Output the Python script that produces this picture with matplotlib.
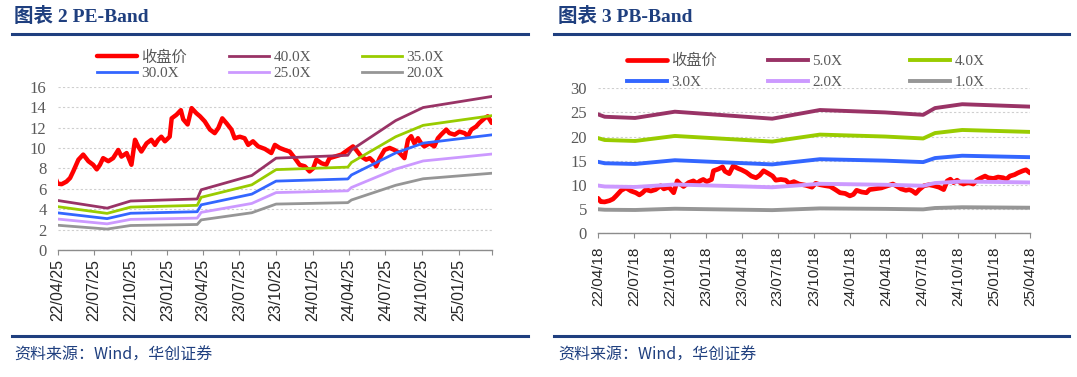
import matplotlib
matplotlib.use("Agg")
import matplotlib.pyplot as plt
from matplotlib.lines import Line2D
import pandas as pd

W, H = 1077, 377

# ---------------- data ----------------
price_dates = [
    "2022-04-18", "2022-04-21", "2022-04-25", "2022-05-05", "2022-05-17", "2022-05-26",
    "2022-06-03", "2022-06-16", "2022-06-28", "2022-07-11", "2022-07-23", "2022-08-01",
    "2022-08-09", "2022-08-17", "2022-08-30", "2022-09-11", "2022-09-24", "2022-10-02",
    "2022-10-15", "2022-10-27", "2022-11-05", "2022-11-13", "2022-11-21", "2022-12-04",
    "2022-12-16", "2022-12-25", "2023-01-02", "2023-01-10", "2023-01-19", "2023-01-31",
    "2023-02-05", "2023-02-17", "2023-02-28", "2023-03-06", "2023-03-17", "2023-03-27",
    "2023-04-08", "2023-04-17", "2023-04-29", "2023-05-12", "2023-05-24", "2023-06-02",
    "2023-06-12", "2023-06-23", "2023-07-05", "2023-07-13", "2023-07-26", "2023-08-07",
    "2023-08-16", "2023-08-28", "2023-09-10", "2023-09-27", "2023-10-13", "2023-10-22",
    "2023-11-03", "2023-11-16", "2023-11-28", "2023-12-11", "2023-12-23", "2024-01-05",
    "2024-01-17", "2024-01-26", "2024-02-03", "2024-02-16", "2024-02-28", "2024-03-07",
    "2024-03-20", "2024-04-06", "2024-04-22", "2024-05-05", "2024-05-13", "2024-05-26",
    "2024-06-07", "2024-06-16", "2024-06-24", "2024-07-02", "2024-07-11", "2024-07-23",
    "2024-08-05", "2024-08-17", "2024-08-30", "2024-09-11", "2024-09-20", "2024-09-28",
    "2024-10-06", "2024-10-15", "2024-10-23", "2024-10-31", "2024-11-13", "2024-11-25",
    "2024-12-04", "2024-12-12", "2024-12-25", "2025-01-02", "2025-01-15", "2025-01-27",
    "2025-02-09", "2025-02-17", "2025-02-26", "2025-03-10", "2025-03-18", "2025-03-31",
    "2025-04-08", "2025-04-18",
]
price_values = [
    7.2, 6.9, 6.5, 6.45, 6.7, 7.05,
    7.7, 8.85, 9.35, 8.7, 8.35, 7.9,
    8.35, 9.0, 8.7, 9.0, 9.8, 9.15,
    9.5, 8.35, 10.8, 10.15, 9.65, 10.45,
    10.8, 10.3, 10.8, 11.1, 10.65, 11.1,
    12.9, 13.25, 13.7, 12.8, 12.3, 13.9,
    13.4, 13.1, 12.6, 11.8, 11.45, 11.95,
    12.9, 12.4, 11.8, 10.95, 11.1, 10.95,
    10.3, 10.65, 10.15, 9.9, 9.5, 10.3,
    10.0, 9.8, 9.65, 9.0, 8.35, 8.2,
    7.7, 8.0, 8.85, 8.5, 8.35, 9.0,
    9.15, 9.35, 9.8, 10.15, 9.8, 9.15,
    8.85, 9.0, 8.7, 8.2, 9.0, 9.8,
    10.0, 9.8, 9.5, 9.0, 10.8, 11.15,
    10.45, 10.95, 10.45, 10.15, 10.45, 10.15,
    10.95, 11.3, 11.8, 11.45, 11.3, 11.6,
    11.45, 11.15, 11.8, 12.1, 12.45, 12.9,
    13.1, 12.45,
]

pe_eps_dates = ["2022-04-25", "2022-08-27", "2022-10-25", "2023-04-10", "2023-04-20",
                "2023-08-25", "2023-10-25", "2024-04-22", "2024-05-01", "2024-08-20",
                "2024-10-28", "2025-04-18"]
pe_eps_values = [0.1213, 0.1025, 0.120, 0.125, 0.1475,
                 0.1825, 0.225, 0.232, 0.245, 0.317,
                 0.349, 0.376]
pe_multiples = [40.0, 35.0, 30.0, 25.0, 20.0]
pe_labels = ["40.0X", "35.0X", "30.0X", "25.0X", "20.0X"]

pb_bps_dates = ["2022-04-18", "2022-05-05", "2022-07-21", "2022-10-30", "2023-07-04",
                "2023-11-02", "2024-04-15", "2024-07-21", "2024-08-20", "2024-10-28",
                "2025-04-18"]
pb_bps_values = [4.92, 4.82, 4.77, 5.03, 4.74,
                 5.10, 5.00, 4.90, 5.18, 5.34,
                 5.24]
pb_multiples = [5.0, 4.0, 3.0, 2.0, 1.0]
pb_labels = ["5.0X", "4.0X", "3.0X", "2.0X", "1.0X"]

close_label = "收盘价"

pe_xticks = ["2022-04-25", "2022-07-25", "2022-10-25", "2023-01-25", "2023-04-25",
             "2023-07-25", "2023-10-25", "2024-01-25", "2024-04-25", "2024-07-25",
             "2024-10-25", "2025-01-25"]
pb_xticks = ["2022-04-18", "2022-07-18", "2022-10-18", "2023-01-18", "2023-04-18",
             "2023-07-18", "2023-10-18", "2024-01-18", "2024-04-18", "2024-07-18",
             "2024-10-18", "2025-01-18", "2025-04-18"]
pe_yticks = [0, 2, 4, 6, 8, 10, 12, 14, 16]
pb_yticks = [0, 5, 10, 15, 20, 25, 30]

# ---------------- style ----------------
band_colors = ["#993366", "#99CC00", "#3366FF", "#CC99FF", "#969696"]
close_color = "#FF0000"
navy = "#1F3F7F"
grey_text = "#595959"
serif_cjk = ["Liberation Serif", "Noto Sans CJK SC"]

fig = plt.figure(figsize=(W / 100, H / 100), dpi=100)


def px_rect(x0, y_top, x1, y_bot):
    return [x0 / W, 1 - y_bot / H, (x1 - x0) / W, (y_bot - y_top) / H]


def fx(x):
    return x / W


def fy(y):
    return 1 - y / H


def draw_panel(rect, xlim, xticks, yticks, ylim, base_dates, base_values, multiples,
               labels, close_lw, band_lw, leg_cols, leg_rows, xtick_size, xtick_pad,
               end_tick):
    ax = fig.add_axes(rect)
    ax.patch.set_alpha(0)
    pdates = pd.to_datetime(price_dates)
    h_close, = ax.plot(pdates, price_values, color=close_color, lw=close_lw,
                       solid_joinstyle="round", solid_capstyle="round", zorder=3,
                       label=close_label)
    bdates = pd.to_datetime(base_dates)
    handles = [h_close]
    for m, lbl, c in zip(multiples, labels, band_colors):
        h, = ax.plot(bdates, [m * v for v in base_values], color=c, lw=band_lw,
                     solid_joinstyle="round", zorder=4, label=lbl)
        handles.append(h)
    ax.set_xlim(pd.Timestamp(xlim[0]), pd.Timestamp(xlim[1]))
    ax.set_ylim(*ylim)
    tick_dates = list(pd.to_datetime(xticks))
    tick_labels = [d.strftime("%y/%m/%d") for d in tick_dates]
    if end_tick:
        tick_dates.append(pd.Timestamp(xlim[1]))
        tick_labels.append("")
    ax.set_xticks(tick_dates)
    ax.set_xticklabels(tick_labels, rotation=90, fontsize=xtick_size,
                       family="Liberation Sans", color="#262626")
    ax.set_yticks(yticks)
    ax.set_yticklabels([str(v) for v in yticks], fontsize=12,
                       family="Liberation Serif", color=grey_text)
    ax.tick_params(axis="x", direction="out", length=3.5, width=0.8, color="#8C8C8C",
                   pad=xtick_pad)
    ax.tick_params(axis="y", length=0, pad=8)
    for s in ["top", "right", "left"]:
        ax.spines[s].set_visible(False)
    ax.spines["bottom"].set_color("#8C8C8C")
    ax.spines["bottom"].set_linewidth(1.0)
    ax.spines["bottom"].set_zorder(5)
    ax.yaxis.grid(True, color="#CFCFCF", linestyle=(0, (2, 2)), lw=0.8)
    ax.set_axisbelow(True)

    # legend laid out as a 3x2 grid (row-major like the original)
    for i in range(6):
        r, c = divmod(i, 3)
        leg = fig.legend(handles=[handles[i]], labels=[handles[i].get_label()],
                         loc="center left",
                         bbox_to_anchor=(fx(leg_cols[c]), fy(leg_rows[r])),
                         frameon=False, borderpad=0, borderaxespad=0,
                         handlelength=2.6, handletextpad=0.3,
                         prop={"family": serif_cjk, "size": 11})
        for t in leg.get_texts():
            t.set_color(grey_text)
    return ax


# ---- left panel: PE-Band ----
draw_panel(px_rect(57.7, 86.7, 491.7, 250), ("2022-04-25", "2025-04-18"), pe_xticks,
           pe_yticks, (0, 16), pe_eps_dates, pe_eps_values, pe_multiples, pe_labels,
           close_lw=3.2, band_lw=2.0, leg_cols=[97, 229, 362], leg_rows=[57.5, 73],
           xtick_size=11.5, xtick_pad=3, end_tick=True)

# ---- right panel: PB-Band ----
draw_panel(px_rect(598, 88.3, 1030, 233), ("2022-04-18", "2025-04-18"), pb_xticks,
           pb_yticks, (0, 30), pb_bps_dates, pb_bps_values, pb_multiples, pb_labels,
           close_lw=3.4, band_lw=2.8, leg_cols=[627, 768, 910], leg_rows=[61, 82],
           xtick_size=11, xtick_pad=6, end_tick=False)

# ---- titles, rules, sources ----
for x0, x1, title, tx in [(12, 528, "图表 2 PE-Band", 14), (554, 1069, "图表 3 PB-Band", 558)]:
    fig.text(fx(tx), fy(17), title, ha="left", va="center", fontsize=14,
             fontweight="bold", color=navy, family=serif_cjk)
    for yy in (34, 336):
        fig.add_artist(Line2D([fx(x0), fx(x1)], [fy(yy), fy(yy)], transform=fig.transFigure,
                              color=navy, lw=2.2))
    fig.text(fx(tx), fy(355), "资料来源：Wind，华创证券", ha="left", va="center",
             fontsize=11.5, style="italic", color=navy,
             family=["Noto Sans CJK SC", "DejaVu Sans"])

fig.savefig("out.png", dpi=100)
